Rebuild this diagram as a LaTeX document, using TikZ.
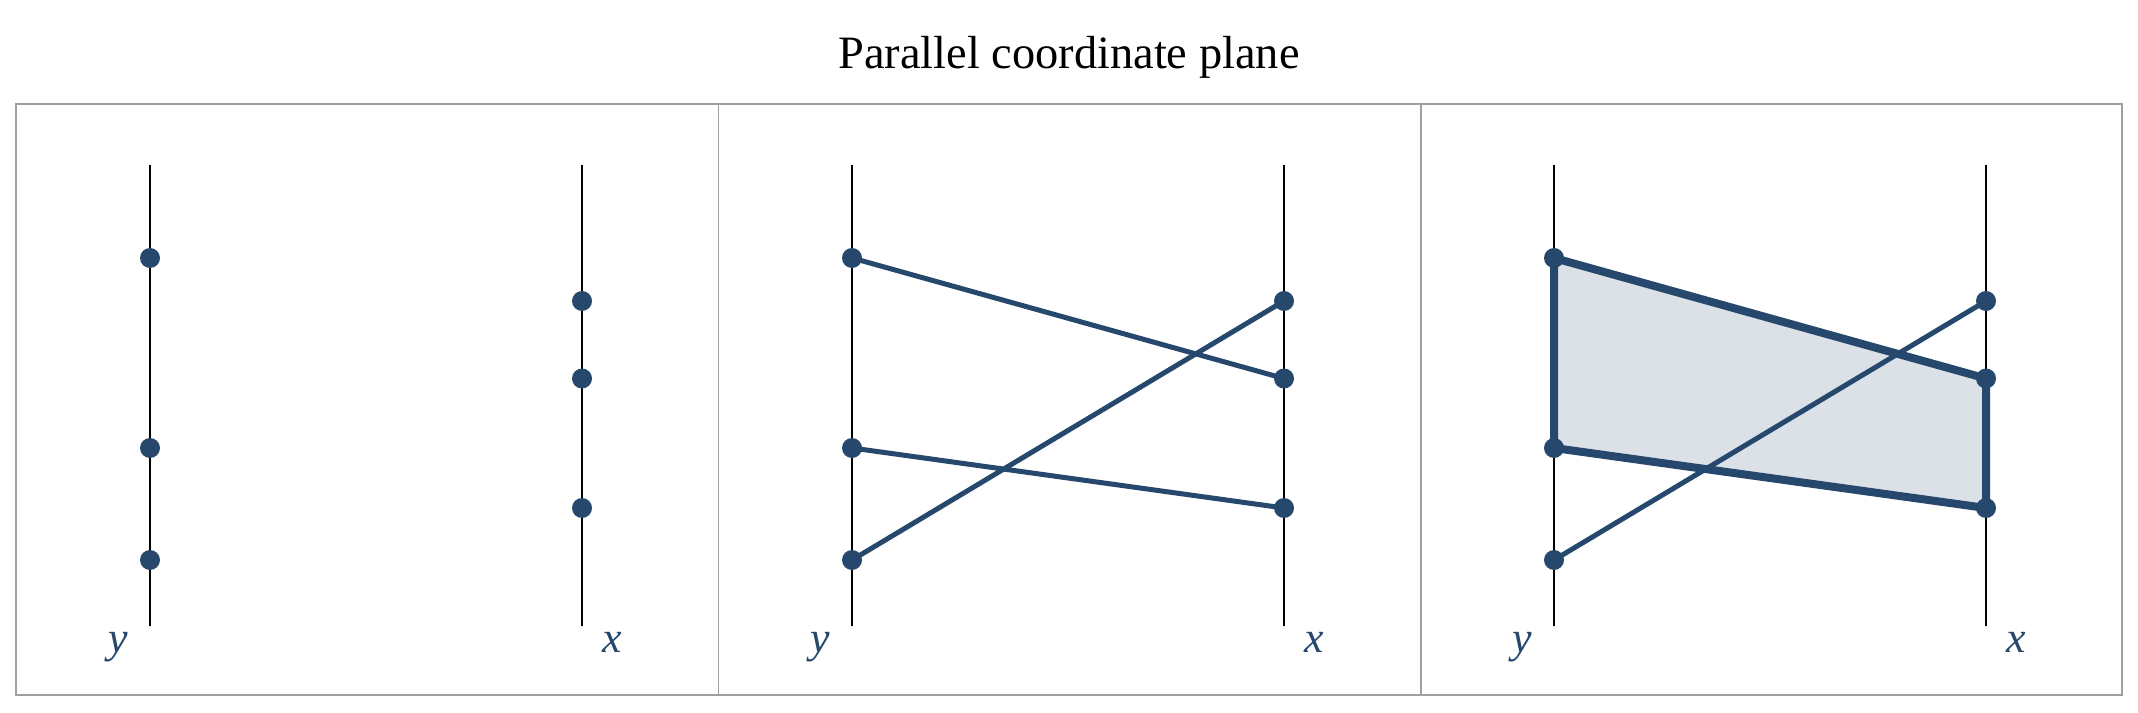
\documentclass[tikz,border=0pt]{standalone}
\usepackage{fontspec}
\setmainfont{Liberation Serif}
\usetikzlibrary{backgrounds}
\definecolor{navy}{RGB}{38,72,108}
\definecolor{areafill}{RGB}{220,224,231}
\definecolor{framegray}{RGB}{160,160,160}
\begin{document}
\begin{tikzpicture}[x=0.1mm,y=-0.1mm,
  dot/.style={circle,fill=navy,inner sep=0pt,minimum size=2.0mm},
  axisline/.style={black,line width=0.2mm},
  thinlink/.style={navy,line width=0.5mm},
  thicklink/.style={navy,line width=0.8mm,line join=round},
  lab/.style={text=navy,anchor=base,font=\fontsize{12.5}{15}\selectfont\itshape},
  panelline/.style={framegray,line width=0.15mm}]
\useasboundingbox (0,0) rectangle (2138,713);
\node[font=\fontsize{13.2}{16}\selectfont,anchor=base] (title) at (1069,69) {Parallel coordinate plane};
\draw[panelline] (16,104) rectangle (2122,695);
\draw[panelline] (718.5,104) -- (718.5,695);
\draw[panelline] (1421,104) -- (1421,695);
\foreach \i/\dx in {1/0,2/702,3/1404} {
  \coordinate (YT\i) at (150+\dx,165);
  \coordinate (YB\i) at (150+\dx,626);
  \coordinate (XT\i) at (582+\dx,165);
  \coordinate (XB\i) at (582+\dx,626);
  \begin{scope}[on background layer]
    \draw[axisline] (YT\i) -- (YB\i);
    \draw[axisline] (XT\i) -- (XB\i);
  \end{scope}
  \node[dot] (Y1p\i) at (150+\dx,258) {};
  \node[dot] (Y2p\i) at (150+\dx,448) {};
  \node[dot] (Y3p\i) at (150+\dx,560) {};
  \node[dot] (X1p\i) at (582+\dx,301) {};
  \node[dot] (X2p\i) at (582+\dx,378.5) {};
  \node[dot] (X3p\i) at (582+\dx,508) {};
  \node[lab] (ylab\i) at (118+\dx,652) {y};
  \node[lab] (xlab\i) at (612+\dx,652) {x};
}
\begin{scope}[on background layer]
  % panel 2
  \draw[thinlink] (Y1p2.center) -- (X2p2.center);
  \draw[thinlink] (Y2p2.center) -- (X3p2.center);
  \draw[thinlink] (Y3p2.center) -- (X1p2.center);
  % panel 3
  \fill[areafill] (Y1p3.center) -- (X2p3.center) -- (X3p3.center) -- (Y2p3.center) -- cycle;
  \draw[thicklink] (Y1p3.center) -- (X2p3.center) -- (X3p3.center) -- (Y2p3.center) -- cycle;
  \draw[thinlink] (Y3p3.center) -- (X1p3.center);
\end{scope}
\end{tikzpicture}
\end{document}
